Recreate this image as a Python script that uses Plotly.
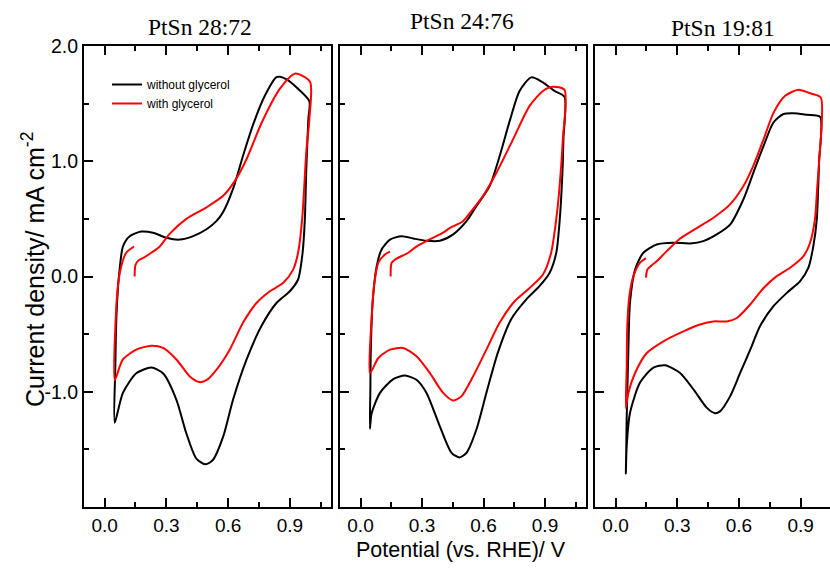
import plotly.graph_objects as go

W, H = 830, 569

titles = ["PtSn 28:72", "PtSn 24:76", "PtSn 19:81"]
legend_names = ["without glycerol", "with glycerol"]
x_ticks = [0.0, 0.3, 0.6, 0.9]
x_tick_text = ["0.0", "0.3", "0.6", "0.9"]
y_ticks = [-1.0, 0.0, 1.0, 2.0]
y_tick_text = ["-1.0", "0.0", "1.0", "2.0"]

# Panel 1: PtSn 28:72
p1k_x = [0.049, 0.052, 0.057, 0.065, 0.073, 0.089, 0.122, 0.178, 0.235, 0.30, 0.365, 0.43, 0.495, 0.543, 0.576,
         0.624, 0.673, 0.722, 0.779, 0.835, 0.852, 0.884, 0.933, 0.995, 0.99, 0.98, 0.973, 0.962, 0.94, 0.90,
         0.835, 0.762, 0.69, 0.624, 0.576, 0.527, 0.491, 0.446, 0.397, 0.349, 0.284, 0.227, 0.154, 0.089, 0.049]
p1k_y = [-1.27, -0.8, -0.37, -0.1, 0.06, 0.26, 0.35, 0.39, 0.38, 0.336, 0.32, 0.35, 0.41, 0.48, 0.56,
         0.76, 1.05, 1.32, 1.57, 1.73, 1.733, 1.71, 1.64, 1.52, 1.37, 0.93, 0.5, 0.206, -0.026, -0.128,
         -0.23, -0.43, -0.72, -1.07, -1.39, -1.59, -1.63, -1.58, -1.36, -1.07, -0.84, -0.79, -0.84, -1.01, -1.27]
p1r_x = [0.146, 0.150, 0.165, 0.186, 0.227, 0.268, 0.316, 0.397, 0.495, 0.576, 0.633, 0.69, 0.762, 0.852, 0.925,
         0.998, 0.995, 0.98, 0.96, 0.94, 0.916, 0.868, 0.803, 0.738, 0.673, 0.608, 0.543, 0.495, 0.462, 0.414,
         0.349, 0.284, 0.227, 0.154, 0.089, 0.049, 0.054, 0.065, 0.081, 0.105, 0.143]
p1r_y = [0.0, 0.10, 0.14, 0.16, 0.206, 0.26, 0.37, 0.50, 0.60, 0.70, 0.83, 1.02, 1.33, 1.63, 1.76,
         1.69, 1.37, 1.08, 0.5, 0.206, 0.06, -0.055, -0.128, -0.23, -0.40, -0.635, -0.81, -0.9, -0.916, -0.867,
         -0.72, -0.62, -0.60, -0.635, -0.72, -0.9, -0.37, -0.08, 0.09, 0.206, 0.26]

# Panel 2: PtSn 24:76
p2k_x = [0.046, 0.048, 0.05, 0.059, 0.079, 0.103, 0.144, 0.20, 0.257, 0.322, 0.387, 0.452, 0.517, 0.565, 0.63,
         0.679, 0.728, 0.776, 0.833, 0.89, 0.946, 0.995, 0.99, 0.985, 0.97, 0.955, 0.922, 0.873, 0.808, 0.735,
         0.67, 0.614, 0.565, 0.517, 0.484, 0.444, 0.387, 0.322, 0.273, 0.217, 0.16, 0.095, 0.054, 0.046]
p2k_y = [-1.32, -1.0, -0.66, -0.23, 0.09, 0.235, 0.32, 0.35, 0.33, 0.31, 0.31, 0.365, 0.48, 0.61, 0.785,
         1.046, 1.35, 1.61, 1.728, 1.684, 1.61, 1.56, 1.2, 0.9, 0.45, 0.206, 0.03, -0.084, -0.2, -0.37,
         -0.66, -1.01, -1.33, -1.53, -1.57, -1.53, -1.30, -1.01, -0.896, -0.86, -0.89, -1.01, -1.19, -1.32]
p2r_x = [0.147, 0.152, 0.176, 0.233, 0.273, 0.33, 0.403, 0.435, 0.50, 0.533, 0.598, 0.663, 0.744, 0.825, 0.89,
         0.938, 0.995, 0.987, 0.97, 0.955, 0.93, 0.89, 0.825, 0.752, 0.679, 0.614, 0.549, 0.492, 0.452, 0.403,
         0.338, 0.273, 0.208, 0.144, 0.087, 0.046, 0.054, 0.066, 0.087, 0.119, 0.144]
p2r_y = [0.0, 0.12, 0.155, 0.206, 0.26, 0.315, 0.38, 0.42, 0.48, 0.55, 0.70, 0.90, 1.19, 1.48, 1.61,
         1.646, 1.62, 1.19, 0.757, 0.5, 0.206, 0.017, -0.1, -0.215, -0.40, -0.635, -0.867, -1.04, -1.076, -1.01,
         -0.837, -0.693, -0.62, -0.635, -0.707, -0.84, -0.37, -0.08, 0.12, 0.19, 0.215]

# Panel 3: PtSn 19:81
p3k_x = [0.05, 0.052, 0.054, 0.062, 0.07, 0.095, 0.135, 0.20, 0.28, 0.363, 0.427, 0.492, 0.557, 0.622, 0.67,
         0.72, 0.768, 0.817, 0.865, 0.93, 0.995, 0.99, 0.985, 0.979, 0.962, 0.938, 0.898, 0.833, 0.768, 0.703,
         0.655, 0.606, 0.557, 0.508, 0.484, 0.444, 0.379, 0.314, 0.241, 0.184, 0.119, 0.07, 0.054, 0.05]
p3k_y = [-1.71, -1.5, -1.24, -0.66, -0.23, 0.06, 0.206, 0.278, 0.293, 0.287, 0.307, 0.365, 0.45, 0.67, 0.90,
         1.133, 1.336, 1.41, 1.417, 1.403, 1.385, 1.0, 0.75, 0.5, 0.264, 0.076, -0.04, -0.142, -0.258, -0.43,
         -0.635, -0.837, -1.04, -1.17, -1.186, -1.14, -0.98, -0.837, -0.77, -0.79, -0.92, -1.186, -1.476, -1.71]
p3r_x = [0.148, 0.155, 0.20, 0.249, 0.314, 0.395, 0.476, 0.557, 0.622, 0.67, 0.72, 0.768, 0.825, 0.89, 0.946,
         0.998, 0.99, 0.98, 0.97, 0.946, 0.914, 0.849, 0.784, 0.72, 0.655, 0.59, 0.541, 0.476, 0.411, 0.33,
         0.233, 0.152, 0.095, 0.062, 0.05, 0.054, 0.057, 0.067, 0.087, 0.119, 0.148]
p3r_y = [-0.01, 0.06, 0.133, 0.22, 0.33, 0.42, 0.51, 0.626, 0.785, 0.96, 1.19, 1.42, 1.568, 1.62, 1.59,
         1.553, 1.0, 0.75, 0.5, 0.293, 0.177, 0.076, 0.003, -0.1, -0.243, -0.36, -0.39, -0.39, -0.417, -0.476,
         -0.562, -0.664, -0.837, -1.01, -1.14, -0.81, -0.43, -0.17, 0.003, 0.12, 0.16]

panels = [
    (p1k_x, p1k_y, p1r_x, p1r_y),
    (p2k_x, p2k_y, p2r_x, p2r_y),
    (p3k_x, p3k_y, p3r_x, p3r_y),
]

# layout geometry (pixels)
x_dom_px = [(84, 331), (340, 586), (595, 830)]
x_ranges = [[-0.1, 1.1], [-0.1, 1.1], [-0.1, 1.043]]
top_px, bot_px = 46, 507

fig = go.Figure()
sans = "Liberation Sans, Arial, sans-serif"
serif = "Liberation Serif, Times New Roman, serif"

for i, (kx, ky, rx, ry) in enumerate(panels):
    sfx = "" if i == 0 else str(i + 1)
    fig.add_trace(go.Scatter(x=kx, y=ky, mode="lines", name=legend_names[0],
                             line=dict(color="black", width=2, shape="spline", smoothing=0.7),
                             xaxis="x" + sfx, yaxis="y" + sfx, showlegend=(i == 0)))
    fig.add_trace(go.Scatter(x=rx, y=ry, mode="lines", name=legend_names[1],
                             line=dict(color="#ff0000", width=2, shape="spline", smoothing=0.7),
                             xaxis="x" + sfx, yaxis="y" + sfx, showlegend=(i == 0)))

layout = dict(
    template="none",
    width=W, height=H,
    margin=dict(l=0, r=0, t=0, b=0, autoexpand=False),
    paper_bgcolor="white", plot_bgcolor="white",
    showlegend=True,
    legend=dict(x=107 / W, y=1 - 70 / H, xanchor="left", yanchor="top",
                font=dict(family=sans, size=12, color="black"),
                bgcolor="rgba(0,0,0,0)", borderwidth=0, tracegroupgap=0, itemwidth=30),
)

for i in range(3):
    sfx = "" if i == 0 else str(i + 1)
    x0, x1 = x_dom_px[i]
    xa = dict(domain=[x0 / W, x1 / W], range=x_ranges[i], anchor="y" + sfx, automargin=False,
              showline=True, linecolor="black", linewidth=2, mirror="ticks",
              ticks="inside", ticklen=9, tickwidth=1.5, tickcolor="black",
              tickvals=x_ticks, ticktext=x_tick_text, showgrid=False, zeroline=False,
              tickfont=dict(family=sans, size=19, color="black"),
              minor=dict(tickvals=[0.15, 0.45, 0.75, 1.05], ticklen=5, tickwidth=1.5,
                         tickcolor="black", ticks="inside", showgrid=False))
    ya = dict(domain=[1 - bot_px / H, 1 - top_px / H], range=[-2.0, 2.0], anchor="x" + sfx, automargin=False,
              showline=True, linecolor="black", linewidth=2, mirror=("ticks" if i < 2 else False),
              ticks="inside", ticklen=9, tickwidth=1.5, tickcolor="black",
              tickvals=y_ticks, ticktext=y_tick_text, showgrid=False, zeroline=False,
              showticklabels=(i == 0),
              tickfont=dict(family=sans, size=19.5, color="black"),
              minor=dict(tickvals=[-1.5, -0.5, 0.5, 1.5], ticklen=5, tickwidth=1.5,
                         tickcolor="black", ticks="inside", showgrid=False))
    layout["xaxis" + sfx] = xa
    layout["yaxis" + sfx] = ya

fig.update_layout(**layout)

title_pos = [(200, 27), (462, 21), (723, 28)]
for t, (tx, ty) in zip(titles, title_pos):
    fig.add_annotation(text=t, x=tx / W, y=1 - ty / H, xref="paper", yref="paper",
                       showarrow=False, font=dict(family=serif, size=23.5, color="black"),
                       xanchor="center", yanchor="middle")

fig.add_annotation(text="Potential (vs. RHE)/ V", x=461 / W, y=1 - 550 / H, xref="paper", yref="paper",
                   showarrow=False, font=dict(family=sans, size=21.5, color="black"),
                   xanchor="center", yanchor="middle")
fig.add_annotation(text="Current density/ mA cm<sup>-2</sup>", x=33 / W, y=1 - 270 / H,
                   xref="paper", yref="paper", textangle=-90,
                   showarrow=False, font=dict(family=sans, size=25, color="black"),
                   xanchor="center", yanchor="middle")

fig.write_html("out.html")
